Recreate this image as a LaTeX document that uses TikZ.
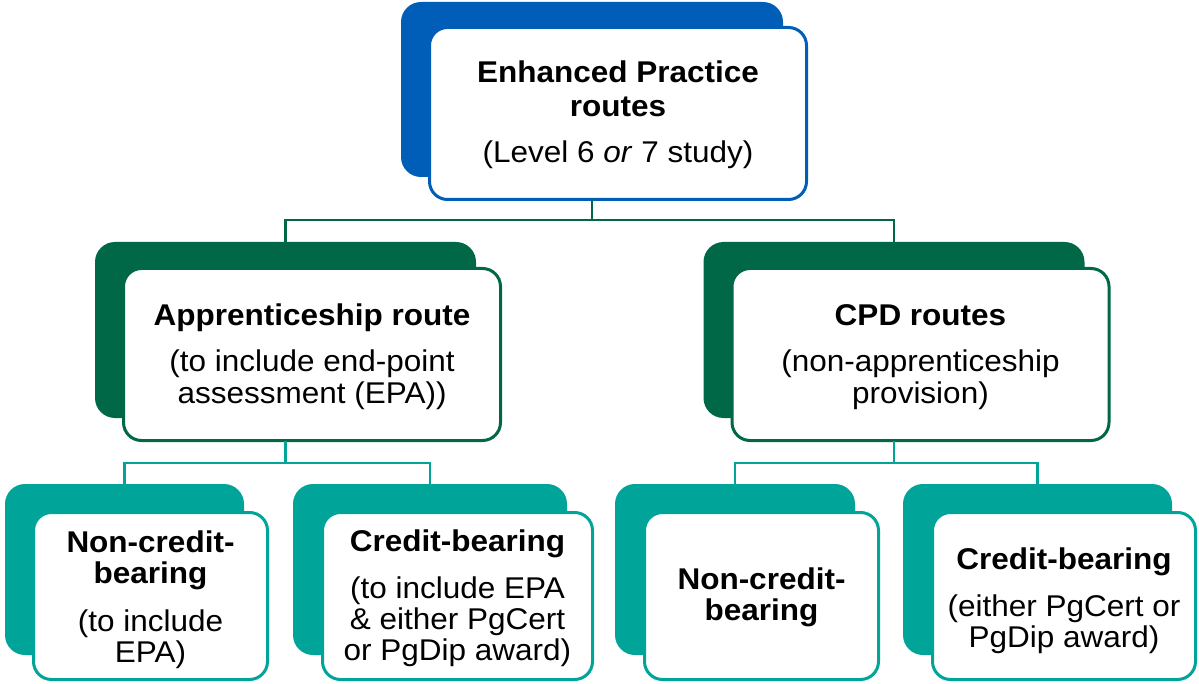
\documentclass[tikz,border=0pt]{standalone}
\usepackage{fontspec}
\setmainfont{Liberation Sans}[FakeStretch=1.05]
\definecolor{nhsblue}{HTML}{005EB8}
\definecolor{nhsdkgreen}{HTML}{006747}
\definecolor{nhsteal}{HTML}{00A499}
\tikzset{
  backbox/.style={inner sep=0pt, outer sep=0pt, rounded corners=20pt},
  frontbox/.style={draw, line width=3pt, fill=white, inner sep=0pt, outer sep=0pt, rounded corners=18pt},
  conn/.style={line width=2.6pt},
  txt/.style={align=center, anchor=base, inner sep=0pt, font=\fontsize{30}{31}\selectfont},
}
\begin{document}
\begin{tikzpicture}[x=1pt, y=-1pt]
\useasboundingbox (0,0) rectangle (1199,684);
% top
\node[backbox, fill=nhsblue, minimum width=382pt, minimum height=175pt] (topB) at (592,89.5) {};
\node[frontbox, draw=nhsblue, minimum width=377pt, minimum height=172pt] (topF) at (618,113.5) {};
\node[txt] (topT) at (618,163) {\textbf{Enhanced Practice}\\[3pt]\textbf{routes}\\[15pt](Level 6 \textit{or} 7 study)};
% middle
\node[backbox, fill=nhsdkgreen, minimum width=381pt, minimum height=176pt] (mlB) at (285.5,330) {};
\node[frontbox, draw=nhsdkgreen, minimum width=377pt, minimum height=172pt] (mlF) at (312,354.5) {};
\node[txt] (mlT) at (312,403) {\textbf{Apprenticeship route}\\[16pt](to include end-point\\assessment (EPA))};
\node[backbox, fill=nhsdkgreen, minimum width=381pt, minimum height=176pt] (mrB) at (894,330) {};
\node[frontbox, draw=nhsdkgreen, minimum width=377pt, minimum height=172pt] (mrF) at (920.5,354.5) {};
\node[txt] (mrT) at (920.5,403) {\textbf{CPD routes}\\[16pt](non-apprenticeship\\provision)};
% bottom
\node[backbox, fill=nhsteal, minimum width=239pt, minimum height=171pt] (b1B) at (124.5,569.5) {};
\node[frontbox, draw=nhsteal, minimum width=234pt, minimum height=167pt] (b1F) at (150.5,596) {};
\node[txt] (b1T) at (150.5,662) {\textbf{Non-credit-}\\\textbf{bearing}\\[17pt](to include\\EPA)};
\node[backbox, fill=nhsteal, minimum width=274pt, minimum height=171pt] (b2B) at (430,569.5) {};
\node[frontbox, draw=nhsteal, minimum width=270pt, minimum height=167pt] (b2F) at (457.5,596) {};
\node[txt] (b2T) at (457.5,660) {\textbf{Credit-bearing}\\[16pt](to include EPA\\\& either PgCert\\or PgDip award)};
\node[backbox, fill=nhsteal, minimum width=240pt, minimum height=171pt] (b3B) at (735,569.5) {};
\node[frontbox, draw=nhsteal, minimum width=234pt, minimum height=167pt] (b3F) at (761.5,596) {};
\node[txt] (b3T) at (761.5,620) {\textbf{Non-credit-}\\\textbf{bearing}};
\node[backbox, fill=nhsteal, minimum width=269pt, minimum height=171pt] (b4B) at (1037.5,569.5) {};
\node[frontbox, draw=nhsteal, minimum width=263pt, minimum height=167pt] (b4F) at (1064,596) {};
\node[txt] (b4T) at (1064,647) {\textbf{Credit-bearing}\\[16pt](either PgCert or\\PgDip award)};
% connectors
\coordinate (j1) at (592,220);
\coordinate (j2) at (285.5,463);
\coordinate (j3) at (894,463);
\draw[conn, nhsdkgreen] (topB.center |- topF.south) -- (j1);
\draw[conn, nhsdkgreen] (mlB.north) |- (j1) -| (mrB.north);
\draw[conn, nhsteal] (mlB.center |- mlF.south) -- (j2);
\draw[conn, nhsteal] (b1B.north) |- (j2) -| (b2B.north);
\draw[conn, nhsteal] (mrB.center |- mrF.south) -- (j3);
\draw[conn, nhsteal] (b3B.north) |- (j3) -| (b4B.north);
\end{tikzpicture}
\end{document}
